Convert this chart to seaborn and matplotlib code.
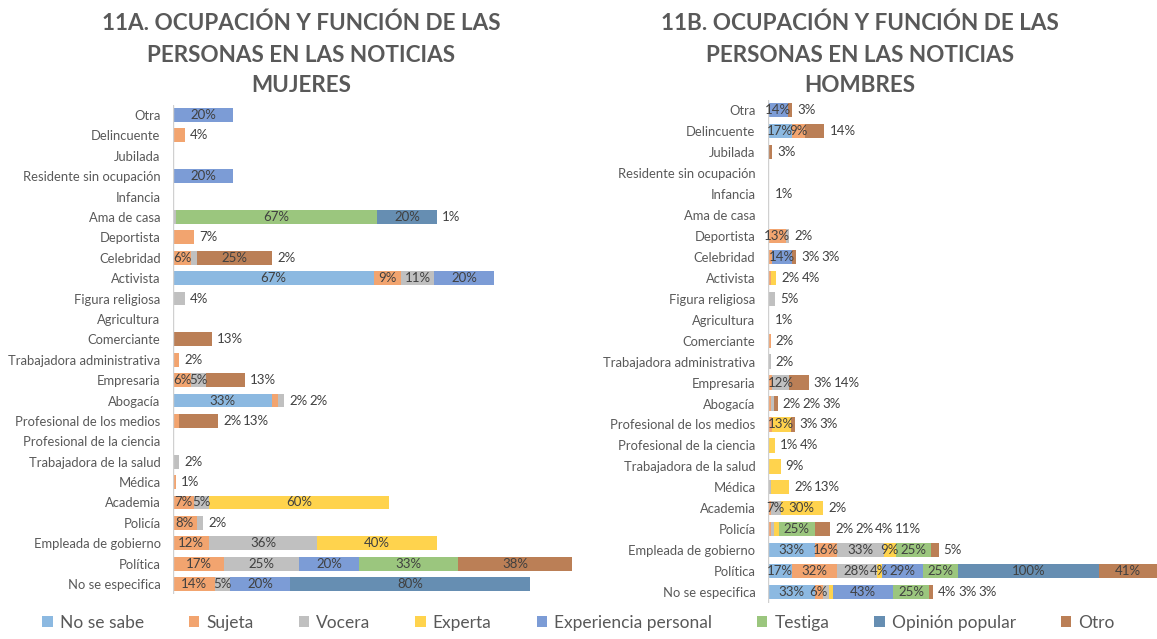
import pandas as pd
import matplotlib
matplotlib.use('Agg')
import matplotlib.pyplot as plt
import seaborn as sns
from matplotlib.patches import Patch

categories = ['Otra', 'Delincuente', 'Jubilada', 'Residente sin ocupación', 'Infancia',
              'Ama de casa', 'Deportista', 'Celebridad', 'Activista', 'Figura religiosa',
              'Agricultura', 'Comerciante', 'Trabajadora administrativa', 'Empresaria',
              'Abogacía', 'Profesional de los medios', 'Profesional de la ciencia',
              'Trabajadora de la salud', 'Médica', 'Academia', 'Policía',
              'Empleada de gobierno', 'Política', 'No se especifica']

series_names = ['No se sabe', 'Sujeta', 'Vocera', 'Experta', 'Experiencia personal',
                'Testiga', 'Opinión popular', 'Otro']

# 11A - mujeres (values in %, same order as categories)
m_no_se_sabe = [0, 0, 0, 0, 0, 0, 0, 0, 67, 0, 0, 0, 0, 0, 33, 0, 0, 0, 0, 0, 0, 0, 0, 0]
m_sujeta = [0, 4, 0, 0, 0, 0, 7, 6, 9, 0, 0, 0, 2, 6, 2, 2, 0, 0, 1, 7, 8, 12, 17, 14]
m_vocera = [0, 0, 0, 0, 0, 1, 0, 2, 11, 4, 0, 0, 0, 5, 2, 0, 0, 2, 0, 5, 2, 36, 25, 5]
m_experta = [0, 0, 0, 0, 0, 0, 0, 0, 0, 0, 0, 0, 0, 0, 0, 0, 0, 0, 0, 60, 0, 40, 0, 0]
m_exp_personal = [20, 0, 0, 20, 0, 0, 0, 0, 20, 0, 0, 0, 0, 0, 0, 0, 0, 0, 0, 0, 0, 0, 20, 20]
m_testiga = [0, 0, 0, 0, 0, 67, 0, 0, 0, 0, 0, 0, 0, 0, 0, 0, 0, 0, 0, 0, 0, 0, 33, 0]
m_opinion = [0, 0, 0, 0, 0, 20, 0, 0, 0, 0, 0, 0, 0, 0, 0, 0, 0, 0, 0, 0, 0, 0, 0, 80]
m_otro = [0, 0, 0, 0, 0, 0, 0, 25, 0, 0, 0, 13, 0, 13, 0, 13, 0, 0, 0, 0, 0, 0, 38, 0]

# 11B - hombres
h_no_se_sabe = [0, 17, 0, 0, 0, 0, 0, 0, 0, 0, 0, 0, 0, 0, 0, 0, 0, 0, 0, 0, 0, 33, 17, 33]
h_sujeta = [0, 9, 0, 0, 1, 0, 13, 3, 2, 0, 1, 2, 0, 3, 2, 3, 0, 0, 0, 2, 2, 16, 32, 6]
h_vocera = [0, 0, 0, 0, 0, 0, 2, 0, 0, 5, 0, 0, 2, 12, 2, 0, 1, 0, 2, 7, 2, 33, 28, 4]
h_experta = [0, 0, 0, 0, 0, 0, 0, 0, 4, 0, 0, 0, 0, 0, 0, 13, 4, 9, 13, 30, 4, 9, 4, 3]
h_exp_personal = [14, 0, 0, 0, 0, 0, 0, 14, 0, 0, 0, 0, 0, 0, 0, 0, 0, 0, 0, 0, 0, 0, 29, 43]
h_testiga = [0, 0, 0, 0, 0, 0, 0, 0, 0, 0, 0, 0, 0, 0, 0, 0, 0, 0, 0, 0, 25, 25, 25, 25]
h_opinion = [0, 0, 0, 0, 0, 0, 0, 0, 0, 0, 0, 0, 0, 0, 0, 0, 0, 0, 0, 0, 0, 0, 100, 0]
h_otro = [3, 14, 3, 0, 0, 0, 0, 3, 0, 0, 0, 0, 0, 14, 3, 3, 0, 0, 0, 0, 11, 5, 41, 3]

colors = ['#8CB9E1', '#F2A46F', '#C0C0C0', '#FFD34D', '#7C9CD6', '#9BC67E', '#668EB2', '#BB7F56']

sns.set_style('white')
plt.rcParams['font.family'] = ['Lato', 'DejaVu Sans']

LABEL_GREY = '#595959'
VALUE_GREY = '#404040'
VAL_SIZE = 9.5


def stacked_panel(ax, series, xmax):
    df = pd.DataFrame(dict(zip(series_names, series)), index=categories)
    cum = df.cumsum(axis=1)
    # widest cumulative bar first, every earlier series is drawn on top of it
    for name, color in reversed(list(zip(series_names, colors))):
        sns.barplot(x=cum[name].values, y=categories, orient='h', color=color,
                    saturation=1, width=0.68, linewidth=0, errorbar=None, ax=ax)
    ax.set_xlim(0, xmax)
    ax.set_ylim(len(categories) - 0.5, -0.5)
    ax.set_xlabel('')
    ax.set_ylabel('')
    ax.set_xticks([])
    sns.despine(ax=ax, left=True, bottom=True)
    ax.axvline(0, color='#D0D0D0', lw=1)
    ax.tick_params(axis='y', length=0, pad=9, labelsize=9.4, labelcolor=LABEL_GREY)

    px = ax.transData.transform((1, 0))[0] - ax.transData.transform((0, 0))[0]
    for i, cat in enumerate(categories):
        row = df.loc[cat]
        nz = [n for n in series_names if row[n] > 0]
        x_out = row.sum() + 5 / px
        for n in nz:
            v = row[n]
            txt = f'{v:g}%'
            need = len(txt) * 7.5
            inside = v * px >= 8 and not (n == nz[-1] and v * px < 40)
            if not inside and x_out + need / px > xmax:
                inside = True
            if inside:
                ax.text(cum.loc[cat, n] - v / 2, i, txt, ha='center', va='center',
                        fontsize=VAL_SIZE, color=VALUE_GREY)
            else:
                # narrow segment: label goes after the end of the bar
                ax.text(x_out, i, txt, ha='left', va='center',
                        fontsize=VAL_SIZE, color=VALUE_GREY)
                x_out += (need + 5) / px


fig = plt.figure(figsize=(11.57, 6.39), dpi=100)
ax_m = fig.add_axes([173 / 1157, 0.070, 402 / 1157, 0.766])
ax_h = fig.add_axes([768 / 1157, 0.057, 389 / 1157, 0.787])

stacked_panel(ax_m, [m_no_se_sabe, m_sujeta, m_vocera, m_experta, m_exp_personal,
                     m_testiga, m_opinion, m_otro], 134)
stacked_panel(ax_h, [h_no_se_sabe, h_sujeta, h_vocera, h_experta, h_exp_personal,
                     h_testiga, h_opinion, h_otro], 276)

titles = [(301, ['11A. OCUPACIÓN Y FUNCIÓN DE LAS', 'PERSONAS EN LAS NOTICIAS', 'MUJERES']),
          (860, ['11B. OCUPACIÓN Y FUNCIÓN DE LAS', 'PERSONAS EN LAS NOTICIAS', 'HOMBRES'])]
for xc, lines in titles:
    for line, yc in zip(lines, [23, 55, 86]):
        fig.text(xc / 1157, 1 - yc / 639, line, ha='center', va='center',
                 fontsize=16.2, fontweight='bold', color=LABEL_GREY)

handles = [Patch(facecolor=c, edgecolor='none') for c in colors]
fig.legend(handles, series_names, loc='lower center', bbox_to_anchor=(0.5, -0.012),
           ncol=8, frameon=False, fontsize=12.5, handlelength=0.6, handleheight=0.6,
           handletextpad=0.4, columnspacing=2.6, labelcolor=LABEL_GREY)

fig.savefig('out.png', dpi=100)
